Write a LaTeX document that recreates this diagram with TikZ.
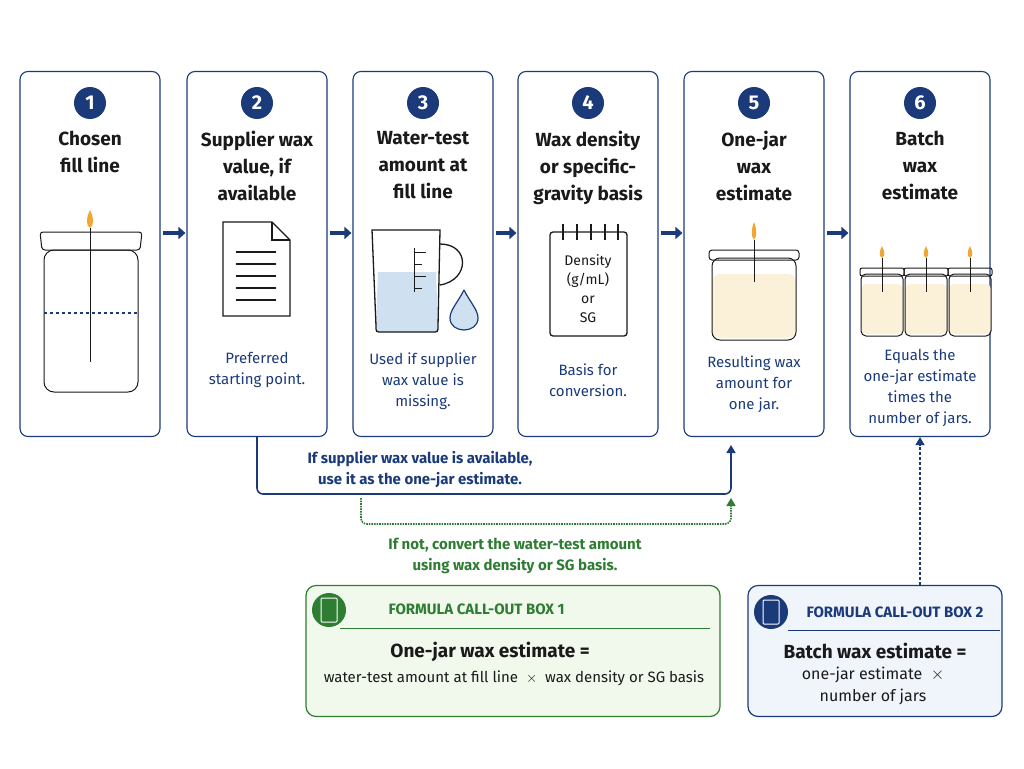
\documentclass[tikz,border=0pt]{standalone}
\usepackage{fontspec}
\setmainfont{Fira Sans}
\usetikzlibrary{arrows.meta, positioning}
\usepackage{xcolor}
\definecolor{navy}{HTML}{1B3A7A}
\definecolor{ink}{HTML}{1A1A1A}
\definecolor{leaf}{HTML}{2E7D32}
\definecolor{leaffill}{HTML}{F1F8EC}
\definecolor{skyfill}{HTML}{F0F4FB}
\definecolor{wax}{HTML}{FBF0D8}
\definecolor{water}{HTML}{CFE0F0}
\definecolor{flame}{HTML}{F2A531}

\begin{document}
\begin{tikzpicture}[
    x=1pt, y=-1pt,
    card/.style={draw=navy, line width=1.1pt, rounded corners=8pt, minimum width=140pt, minimum height=365pt, fill=white},
    num/.style={circle, fill=navy, text=white, font=\bfseries\fontsize{20}{24}\selectfont, minimum size=32pt, inner sep=0pt},
    title/.style={font=\fontsize{19}{27}\selectfont\bfseries, align=center, text=ink},
    note/.style={font=\fontsize{15}{21}\selectfont, align=center, text=navy},
    flowstep/.style={-{Triangle[length=7pt,width=12pt]}, line width=3.5pt, navy},
    icon/.style={draw=ink, line width=1pt},
    arrow/.style={-{Triangle[length=8pt,width=9pt]}, line width=1.6pt}
]
\useasboundingbox (0,0) rectangle (1024,768);

% cards
\foreach \i/\x in {1/90,2/257,3/423,4/588,5/754,6/920}{
  \node[card] (card\i) at (\x,254) {};
  \node[num] (num\i) at (\x,103) {\i};
}
\node[title, anchor=north] (t1) at (90,128) {Chosen\\fill line};
\node[title, anchor=north] (t2) at (257,128) {Supplier wax\\value, if\\available};
\node[title, anchor=north] (t3) at (423,128) {Water-test\\amount at\\fill line};
\node[title, anchor=north] (t4) at (588,128) {Wax density\\or specific-\\gravity basis};
\node[title, anchor=north] (t5) at (754,128) {One-jar\\wax\\estimate};
\node[title, anchor=north] (t6) at (920,128) {Batch\\wax\\estimate};

% step arrows
\foreach \a/\b in {1/2,2/3,3/4,4/5,5/6}
  \draw[flowstep] ([xshift=2pt,yshift=21pt]card\a.east) -- ([xshift=-1pt,yshift=21pt]card\b.west);

% icon 1: jar with fill line
\draw[icon, rounded corners=10pt] (44,250) rectangle (138,392);
\draw[icon, rounded corners=3pt] (40,232) -- (142,232) -- (140,250) -- (42,250) -- cycle;
\draw[navy, dashed, line width=1.3pt] (44,313) -- (138,313);
\draw[ink] (90,228) -- (90,362);
\fill[flame] (90,210) .. controls (94,218) and (94,226) .. (90,228) .. controls (86,226) and (86,218) .. (90,210);

% icon 2: document
\draw[icon, line width=1.3pt] (223,222) -- (272,222) -- (290,240) -- (290,316) -- (223,316) -- cycle;
\draw[icon, line width=1.3pt] (272,222) -- (272,240) -- (290,240);
\foreach \y in {252,264,276,288,300}
  \draw[ink, line width=1.3pt] (236,\y) -- (276,\y);

% icon 3: measuring cup and drop
\fill[water] (378,272) -- (436,272) -- (438,326) .. controls (438,332) .. (432,332) -- (382,332) .. controls (376,332) .. (376,326) -- cycle;
\draw[icon, line width=1.3pt] (372,230) -- (440,230) -- (438,326) .. controls (438,332) .. (432,332) -- (382,332) .. controls (376,332) .. (376,326) -- cycle;
\draw[icon, line width=1.3pt] (440,244) .. controls (470,244) and (470,280) .. (440,285);
\foreach \y/\w in {252/12,264/8,276/12,288/8}
  \draw[ink] (414,\y) -- (414+\w,\y);
\draw[ink] (414,248) -- (414,292);
\draw[navy, fill=water, line width=1.2pt] (464,290) .. controls (470,302) and (478,310) .. (478,318) .. controls (478,334) and (450,334) .. (450,318) .. controls (450,310) and (458,302) .. (464,290);

% icon 4: notepad
\draw[icon, line width=1.3pt, rounded corners=3pt] (550,232) rectangle (627,336);
\foreach \x in {563,577,591,605,618}
  \draw[ink, line width=1.8pt] (\x,224) -- (\x,240);
\node[font=\fontsize{14}{19}\selectfont, align=center, text=ink] (pad) at (588,289) {Density\\(g/mL)\\or\\SG};

% icon 5: filled candle jar
\fill[wax, rounded corners=8pt] (712,274) rectangle (796,338);
\draw[icon, rounded corners=8pt] (712,258) rectangle (796,340);
\draw[icon, rounded corners=3pt] (709,250) rectangle (799,260);
\draw[ink] (754,240) -- (754,282);
\fill[flame] (754,222) .. controls (757,230) and (757,236) .. (754,240) .. controls (751,236) and (751,230) .. (754,222);

% icon 6: three candle jars
\foreach \x in {882,926,970}{
  \fill[wax, rounded corners=5pt] (\x-21,284) rectangle (\x+21,334);
  \draw[icon, rounded corners=5pt] (\x-21,274) rectangle (\x+21,336);
  \draw[icon, rounded corners=2pt] (\x-22,268) rectangle (\x+22,276);
  \draw[ink] (\x,258) -- (\x,292);
  \fill[flame] (\x,246) .. controls (\x+3,252) and (\x+3,256) .. (\x,258) .. controls (\x-3,256) and (\x-3,252) .. (\x,246);
}

% captions
\node[note] (c2) at (257,370) {Preferred\\starting point.};
\node[note] (c3) at (423,381) {Used if supplier\\wax value is\\missing.};
\node[note] (c4) at (588,380) {Basis for\\conversion.};
\node[note] (c5) at (754,384) {Resulting wax\\amount for\\one jar.};
\node[note] (c6) at (920,388) {Equals the\\one-jar estimate\\times the\\number of jars.};

% decision paths
\draw[arrow, navy, rounded corners=6pt] (card2.south) |- (731,494) -- (731,445);
\node[note, font=\fontsize{15}{21}\selectfont\bfseries] (yes) at (420,470) {If supplier wax value is available,\\use it as the one-jar estimate.};
\draw[arrow, leaf, densely dotted, rounded corners=6pt] (361,498) |- (731,524) -- (731,498);
\node[note, font=\fontsize{15}{21}\selectfont\bfseries, text=leaf] (no) at (515,556) {If not, convert the water-test amount\\using wax density or SG basis.};

% formula boxes
\node[draw=leaf, fill=leaffill, line width=1.2pt, rounded corners=10pt, minimum width=414pt, minimum height=131pt] (box1) at (513,651) {};
\node[circle, fill=leaf, minimum size=34pt] (calc1) at (329,610) {};
\draw[white, line width=1pt, rounded corners=1pt] (321,598) rectangle (337,622);
\node[font=\fontsize{15}{18}\selectfont\bfseries, text=leaf, anchor=west] (h1) at (385,609) {FORMULA CALL-OUT BOX 1};
\draw[leaf, line width=1pt] (340,628) -- (710,628);
\node[font=\fontsize{19}{24}\selectfont\bfseries, text=ink] (f1) at (490,652) {One-jar wax estimate =};
\node[font=\fontsize{15}{20}\selectfont, text=ink] (g1) at (514,678) {water-test amount at fill line\ \ $\times$\ \ wax density or SG basis};

\node[draw=navy, fill=skyfill, line width=1.2pt, rounded corners=10pt, minimum width=254pt, minimum height=131pt] (box2) at (875,651) {};
\node[circle, fill=navy, minimum size=34pt] (calc2) at (771,612) {};
\draw[white, line width=1pt, rounded corners=1pt] (763,600) rectangle (779,624);
\node[font=\fontsize{15}{18}\selectfont\bfseries, text=navy, anchor=west] (h2) at (803,612) {FORMULA CALL-OUT BOX 2};
\draw[navy, line width=1pt] (788,630) -- (1000,630);
\node[font=\fontsize{19}{24}\selectfont\bfseries, text=ink] (f2) at (875,651) {Batch wax estimate =};
\node[font=\fontsize{16}{22}\selectfont, text=ink, align=center] (g2) at (873,686) {one-jar estimate\ \ $\times$\\number of jars};

\draw[arrow, navy, densely dashed, line width=1.3pt] (box2.north -| card6.south) -- (card6.south);
\end{tikzpicture}
\end{document}
